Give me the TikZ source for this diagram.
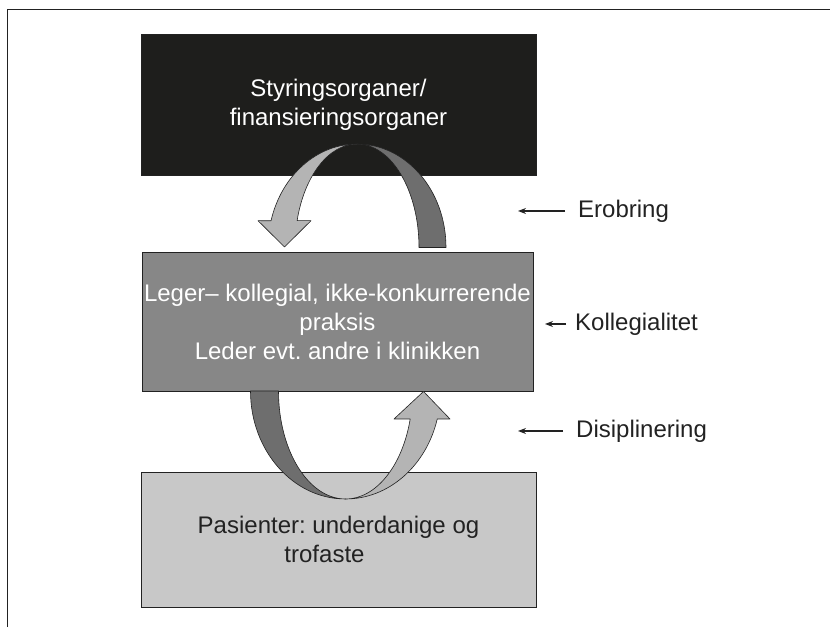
\documentclass[tikz,border=0pt]{standalone}
\usepackage{fontspec}
\setmainfont{Liberation Sans}
\usetikzlibrary{arrows.meta,positioning}
\definecolor{boxblack}{HTML}{1E1E1C}
\definecolor{boxmid}{HTML}{878787}
\definecolor{boxlight}{HTML}{C8C8C8}
\definecolor{bandlight}{HTML}{B4B4B4}
\definecolor{banddark}{HTML}{6E6E6E}
\definecolor{ink}{HTML}{222222}
\frenchspacing

\begin{document}
\begin{tikzpicture}[x=1pt, y=1pt, >={Stealth[length=8pt,width=6pt]},
  box/.style={draw=ink, line width=0.8pt, align=center, inner sep=0pt,
    font=\fontsize{24}{29}\selectfont},
  band/.style={draw=ink, line width=0.6pt, line join=round},
  lbl/.style={anchor=west, inner sep=0pt, text=ink, font=\fontsize{24}{29}\selectfont},
  pointer/.style={->, line width=1.2pt, ink}]
  \useasboundingbox (0,0) rectangle (830,627);
  \draw[ink, line width=1pt] (7,0) -- (7,617) -- (830,617);

  % the three levels
  \node[box, fill=boxblack, text=white, minimum width=395pt, minimum height=141pt] (st) at (338.5,522.5)
    {Styringsorganer/\\finansieringsorganer};
  \node[box, fill=boxmid, text=white, minimum width=391pt, minimum height=139pt] (lg) at (337.5,305.5)
    {Leger-- kollegial, ikke-konkurrerende\\praksis\\Leder evt. andre i klinikken};
  \node[box, fill=boxlight, text=ink, minimum width=395pt, minimum height=135pt] (pa) at (338.5,87.5)
    {Pasienter: underdanige og\\trofaste\hspace*{28pt}};

  % upper turning arrow
  \draw[band, fill=banddark] (357,483) arc[start angle=90, end angle=0, x radius=89, y radius=103.5]
    -- (419,379.5) arc[start angle=0, end angle=90, x radius=62, y radius=103.5] -- cycle;
  \draw[band, fill=bandlight] (357,483) arc[start angle=90, end angle=165, x radius=89, y radius=103.5]
    -- (258,406.3) -- (284.5,380) -- (311,406.3) -- (297.1,406.3)
    arc[start angle=165, end angle=90, x radius=62, y radius=103.5] -- cycle;

  % lower turning arrow
  \draw[band, fill=banddark] (250.5,236) arc[start angle=180, end angle=270, x radius=95, y radius=108]
    arc[start angle=270, end angle=180, x radius=67, y radius=108] -- cycle;
  \draw[band, fill=bandlight] (345.5,128) arc[start angle=270, end angle=345, x radius=95, y radius=108]
    -- (450,208) -- (423.5,235.5) -- (394,208) -- (410.2,208)
    arc[start angle=345, end angle=270, x radius=67, y radius=108] -- cycle;

  % labels on the right
  \node[lbl] (er) at (578,416) {Erobring};
  \node[lbl] (ko) at (575,303) {Kollegialitet};
  \node[lbl] (di) at (576,196) {Disiplinering};
  \coordinate (erT) at (518,416);
  \coordinate (koT) at (545,303);
  \coordinate (diT) at (518,196);
  \draw[pointer] ([xshift=-13pt]er.west) -- (erT);
  \draw[pointer] ([xshift=-9pt]ko.west) -- (koT);
  \draw[pointer] ([xshift=-13pt]di.west) -- (diT);
\end{tikzpicture}
\end{document}
